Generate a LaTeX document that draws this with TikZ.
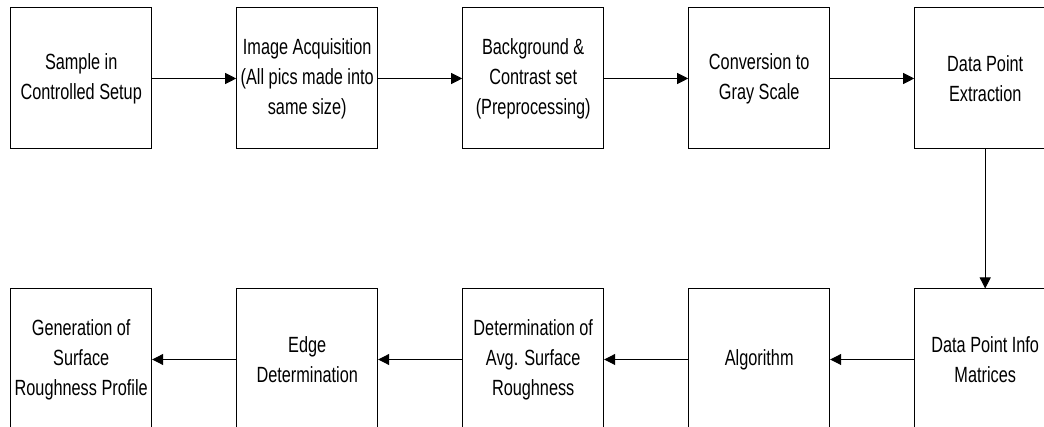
\documentclass[tikz,border=0pt]{standalone}
\usepackage{fontspec}
\setmainfont{Liberation Sans}[FakeStretch=0.74]
\usetikzlibrary{arrows.meta,positioning}

\begin{document}
\begin{tikzpicture}[x=1pt,y=1pt,
  box/.style={draw,line width=1pt,minimum width=141pt,minimum height=141pt,
    inner sep=0pt,align=center,font=\fontsize{22}{30}\selectfont},
  flow/.style={-{Triangle[length=11pt,width=11pt]},line width=1pt},
  node distance=84pt]
\useasboundingbox (0,0) rectangle (1044,427);
\clip (0,0) rectangle (1044,427);

% --- top row, left to right ---
\node[box] (sample) at (81.2,348.5) {Sample in\\Controlled Setup};
\node[box,right=of sample] (acquire) {Image Acquisition\\(All pics made into\\same size)};
\node[box,right=of acquire] (prep) {Background \&\\Contrast set\\(Preprocessing)};
\node[box,right=of prep] (gray) {Conversion to\\Gray Scale};
\node[box,right=of gray] (extract) {Data Point\\Extraction};

% --- bottom row, right to left ---
\node[box,below=139pt of extract] (matrix) {Data Point Info\\Matrices};
\node[box,left=of matrix] (algo) {Algorithm};
\node[box,left=of algo] (avg) {Determination of\\Avg. Surface\\Roughness};
\node[box,left=of avg] (edge) {Edge\\Determination};
\node[box,left=of edge] (profile) {Generation of\\Surface\\Roughness Profile};

% --- connectors ---
\draw[flow] (sample) -- (acquire);
\draw[flow] (acquire) -- (prep);
\draw[flow] (prep) -- (gray);
\draw[flow] (gray) -- (extract);
\draw[flow] (extract) -- (matrix);
\draw[flow] (matrix) -- (algo);
\draw[flow] (algo) -- (avg);
\draw[flow] (avg) -- (edge);
\draw[flow] (edge) -- (profile);

\end{tikzpicture}
\end{document}
